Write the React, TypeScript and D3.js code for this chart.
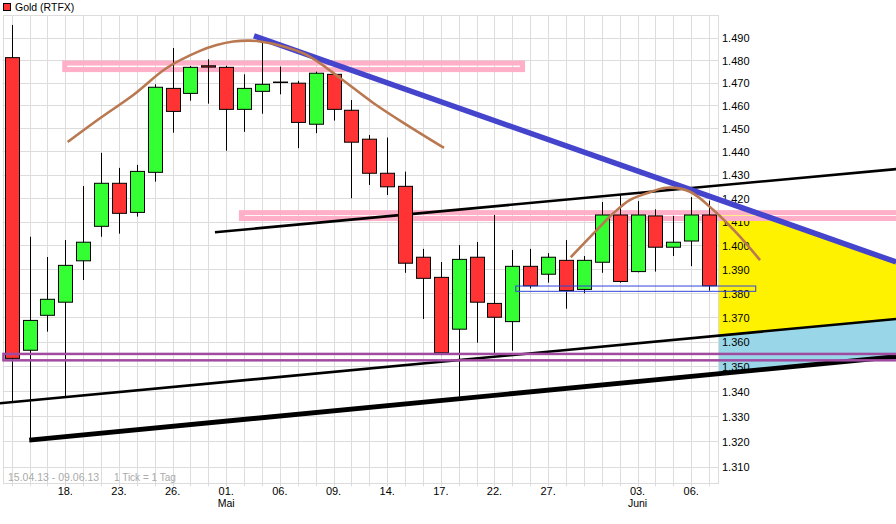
import React from "react";
import * as d3 from "d3";

// ---- data ----
const dayLabels = [
  "15.04", "16.04", "17.04", "18.04", "19.04", "22.04", "23.04", "24.04", "25.04", "26.04",
  "29.04", "30.04", "01.05", "02.05", "03.05", "06.05", "07.05", "08.05", "09.05", "10.05",
  "13.05", "14.05", "15.05", "16.05", "17.05", "20.05", "21.05", "22.05", "23.05", "24.05",
  "27.05", "28.05", "29.05", "30.05", "31.05", "03.06", "04.06", "05.06", "06.06", "07.06",
];
const open = [1.4811, 1.3566, 1.3709, 1.3763, 1.3935, 1.408, 1.4263, 1.4139, 1.431, 1.4675,
  1.4653, 1.4775, 1.4768, 1.4583, 1.4662, 1.4703, 1.4698, 1.4518, 1.4737, 1.4579,
  1.4453, 1.4306, 1.425, 1.395, 1.3866, 1.3652, 1.395, 1.3758, 1.3683, 1.3912,
  1.3879, 1.3937, 1.3816, 1.3929, 1.4128, 1.389, 1.4124, 1.3992, 1.4018, 1.4128];
const high = [1.4957, 1.4036, 1.3951, 1.4022, 1.4251, 1.4394, 1.4329, 1.4342, 1.4693, 1.4854,
  1.4774, 1.4804, 1.4775, 1.4737, 1.4881, 1.4771, 1.4708, 1.4749, 1.4743, 1.4624,
  1.4471, 1.446, 1.4313, 1.3985, 1.393, 1.4001, 1.4014, 1.4128, 1.398, 1.3985,
  1.3967, 1.4022, 1.3955, 1.4183, 1.4213, 1.4187, 1.4152, 1.4124, 1.4204, 1.4189];
const low = [1.3353, 1.3205, 1.3642, 1.3374, 1.3855, 1.4036, 1.4049, 1.4121, 1.427, 1.4481,
  1.4621, 1.4608, 1.4403, 1.4485, 1.4564, 1.4649, 1.4414, 1.4479, 1.4534, 1.4199,
  1.4256, 1.4213, 1.3885, 1.3694, 1.3546, 1.3378, 1.3597, 1.3546, 1.3564, 1.382,
  1.3844, 1.3736, 1.38, 1.3885, 1.3844, 1.3887, 1.389, 1.3955, 1.3913, 1.3811];
const close = [1.3533, 1.3688, 1.3775, 1.3916, 1.4013, 1.4263, 1.4135, 1.4314, 1.468, 1.4574,
  1.4768, 1.4769, 1.4583, 1.4675, 1.4693, 1.4701, 1.4526, 1.4742, 1.4583, 1.444,
  1.4306, 1.4248, 1.3925, 1.3862, 1.3556, 1.3941, 1.3763, 1.3701, 1.3912, 1.3831,
  1.395, 1.3811, 1.3937, 1.4128, 1.3849, 1.4128, 1.3992, 1.4013, 1.4128, 1.3831];

const yTicks = [1.31, 1.32, 1.33, 1.34, 1.35, 1.36, 1.37, 1.38, 1.39, 1.4,
  1.41, 1.42, 1.43, 1.44, 1.45, 1.46, 1.47, 1.48, 1.49];
const xTickIdx = [3, 6, 9, 12, 15, 18, 21, 24, 27, 30, 35, 38];
const xTickText = ["18.", "23.", "26.", "01.", "06.", "09.", "14.", "17.", "22.", "27.", "03.", "06."];
const monthIdx = [12, 35];
const monthText = ["Mai", "Juni"];

// drawn annotations: [day index, price]
const trendUpper = [[11.37, 1.4055], [49.46, 1.4324]];
const trendLower = [[-0.654, 1.3352], [49.46, 1.3694]];
const trendBase = [[0.984, 1.3205], [49.46, 1.354]];
const downTrend = [[13.55, 1.4908], [49.46, 1.393]];
const boxTop = [2.97, 28.57, 1.4787, 1.4758];
const boxMid = [12.85, 50, 1.4138, 1.4113];
const boxSupport = [-0.459, 50, 1.3551, 1.3525];
const boxBlue = [28.19, 41.61, 1.383, 1.3808];
const arc1 = [[3.132, 1.4441], [4.938, 1.4544], [6.801, 1.4646], [8.669, 1.4765], [10.531, 1.4841],
  [11.465, 1.4867], [12.394, 1.4883], [13.328, 1.4887], [13.887, 1.4883], [15.006, 1.4865],
  [16.499, 1.4823], [18.361, 1.4721], [20.224, 1.4611], [22.092, 1.4515], [24.178, 1.4415]];
const arc2 = [[31.264, 1.395], [32.718, 1.4064], [33.647, 1.4135], [34.581, 1.4192], [35.515, 1.422],
  [36.633, 1.4244], [37.936, 1.4227], [39.239, 1.4149], [40.548, 1.4051], [41.851, 1.3938]];

const W = 896;
const H = 524;
const FONT = "'Liberation Sans', Arial, sans-serif";

export default function App() {
  const xS = d3.scaleLinear().domain([-0.5, 39.5]).range([2.7, 718]);
  const yS = d3.scaleLog().domain([1.3035, 1.5]).range([483.3, 15.4]);
  const left = xS(-0.5);
  const right = xS(39.5);
  const top = 15;
  const bottom = yS(1.3035);
  const fmt = d3.format(".3f");
  const crisp = (v: number) => Math.round(v) + 0.5;

  const line = d3.line<number[]>().x((d) => xS(d[0])).y((d) => yS(d[1]));
  const arcLine = d3.line<number[]>().x((d) => xS(d[0])).y((d) => yS(d[1])).curve(d3.curveCatmullRom);

  const segY = (seg: number[][], px: number) => {
    const x0 = xS(seg[0][0]), y0 = yS(seg[0][1]);
    const x1 = xS(seg[1][0]), y1 = yS(seg[1][1]);
    return y0 + ((px - x0) / (x1 - x0)) * (y1 - y0);
  };
  const xEnd = W;
  const midY = (yS(boxMid[2]) + yS(boxMid[3])) / 2;
  // crossing of downtrend with mid box level
  const bx0 = xS(downTrend[0][0]), by0 = yS(downTrend[0][1]);
  const bx1 = xS(downTrend[1][0]), by1 = yS(downTrend[1][1]);
  const xCross = bx0 + ((midY - by0) / (by1 - by0)) * (bx1 - bx0);
  const yellowPts = [
    [right, midY], [xCross, midY], [xEnd, segY(downTrend, xEnd)],
    [xEnd, segY(trendLower, xEnd)], [right, segY(trendLower, right)],
  ];
  const bluePts = [
    [right, segY(trendLower, right)], [xEnd, segY(trendLower, xEnd)],
    [xEnd, segY(trendBase, xEnd)], [right, segY(trendBase, right)],
  ];
  const poly = (pts: number[][]) => "M" + pts.map((p) => p.join(",")).join("L") + "Z";

  const box = (b: number[], stroke: string, sw: number) => (
    <rect
      x={xS(b[0])}
      y={yS(b[2])}
      width={xS(b[1]) - xS(b[0])}
      height={yS(b[3]) - yS(b[2])}
      fill="none"
      stroke={stroke}
      strokeWidth={sw}
    />
  );

  return (
    <svg
      width={W}
      height={H}
      style={{ position: "absolute", left: 0, top: 0, display: "block", background: "#fff" }}
      fontFamily={FONT}
    >
      <rect x={0} y={0} width={W} height={H} fill="#fff" />
      {/* forecast fills */}
      <path d={poly(yellowPts)} fill="#fff200" />
      <path d={poly(bluePts)} fill="#99d6e8" />

      {/* grid */}
      <g stroke="#dcdcdc" strokeWidth={1}>
        {dayLabels.map((d, i) => (
          <line key={d} x1={crisp(xS(i))} x2={crisp(xS(i))} y1={top} y2={bottom + 3} />
        ))}
        {yTicks.map((t) => (
          <line key={t} x1={left} x2={right} y1={crisp(yS(t))} y2={crisp(yS(t))} />
        ))}
        <rect x={crisp(left)} y={crisp(top)} width={Math.round(right - left)} height={Math.round(bottom - top)} fill="none" />
      </g>

      {/* y labels */}
      <g fontSize={11} fill="#000">
        {yTicks.map((t) => (
          <text key={t} x={722} y={yS(t) + 4.5}>{fmt(t)}</text>
        ))}
      </g>
      {/* x labels */}
      <g fontSize={11} fill="#000" textAnchor="middle">
        {xTickIdx.map((t, i) => (
          <text key={i} x={xS(t)} y={495}>{xTickText[i]}</text>
        ))}
        {monthIdx.map((t, i) => (
          <text key={"m" + i} x={xS(t)} y={506.5} fontSize={10.5}>{monthText[i]}</text>
        ))}
      </g>
      <text x={8} y={480.5} fontSize={10.5} fill="#aaaaaa">15.04.13 - 09.06.13</text>
      <text x={114} y={480.5} fontSize={10} fill="#aaaaaa">1 Tick = 1 Tag</text>

      {/* title */}
      <rect x={3.5} y={3.5} width={7} height={7} fill="#ff3333" stroke="#000" strokeWidth={1} />
      <text x={15} y={10.5} fontSize={10.5} fill="#000">Gold (RTFX)</text>

      {/* resistance boxes (under candles) */}
      {box(boxTop, "#ffafc8", 5)}
      {box(boxMid, "#ffafc8", 5)}

      {/* trend lines */}
      <path d={line(trendUpper) || ""} stroke="#000" strokeWidth={2.6} fill="none" />
      <path d={line(trendLower) || ""} stroke="#000" strokeWidth={2.6} fill="none" />
      <path d={line(trendBase) || ""} stroke="#000" strokeWidth={4.8} fill="none" />

      {/* candles */}
      <g>
        {dayLabels.map((d, i) => {
          const cx = crisp(xS(i));
          const up = close[i] >= open[i];
          const yTop = yS(Math.max(open[i], close[i]));
          const yBot = yS(Math.min(open[i], close[i]));
          return (
            <g key={d}>
              <line x1={cx} x2={cx} y1={yS(high[i])} y2={yS(low[i])} stroke="#000" strokeWidth={1} />
              <rect
                x={cx - 7}
                y={yTop}
                width={14}
                height={Math.max(yBot - yTop, 0.5)}
                fill={up ? "#33ff33" : "#ff3333"}
                stroke="#000"
                strokeWidth={1}
              />
            </g>
          );
        })}
      </g>

      {/* overlays */}
      {box(boxSupport, "#a04ba0", 2.5)}
      {box(boxBlue, "#3344dd", 1)}
      <path d={line(downTrend) || ""} stroke="#4444cc" strokeWidth={5.5} fill="none" />
      <path d={arcLine(arc1) || ""} stroke="#b97850" strokeWidth={2.6} fill="none" />
      <path d={arcLine(arc2) || ""} stroke="#b97850" strokeWidth={2.6} fill="none" />
    </svg>
  );
}
